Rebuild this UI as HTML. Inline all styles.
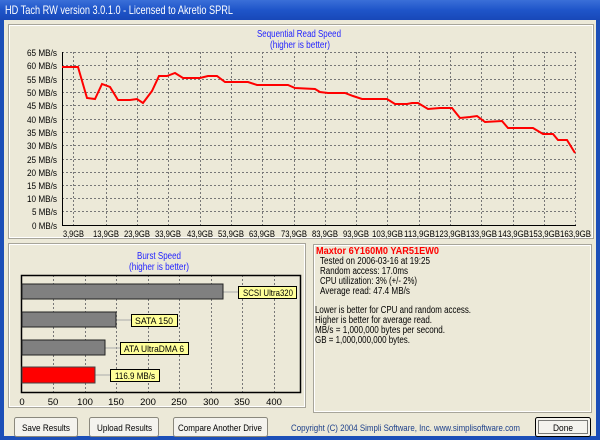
<!DOCTYPE html>
<html><head><style>
body{margin:0;width:600px;height:440px;overflow:hidden;background:#0a246a;font-family:"Liberation Sans",sans-serif;}
svg{display:block}
text{font-family:"Liberation Sans",sans-serif;}
</style></head><body>
<svg width="600" height="440" viewBox="0 0 600 440" xmlns="http://www.w3.org/2000/svg">
<defs>
<linearGradient id="tb" x1="0" y1="0" x2="0" y2="1"><stop offset="0" stop-color="#3a6fd8"/><stop offset="0.5" stop-color="#1f55c9"/><stop offset="1" stop-color="#1848b8"/></linearGradient>
</defs>
<rect x="0" y="0" width="600" height="440" fill="#1c4fb8"/>
<rect x="0" y="0" width="600" height="20" fill="url(#tb)"/>
<text x="5" y="14" font-size="12" fill="#fff" textLength="228" lengthAdjust="spacingAndGlyphs">HD Tach RW version 3.0.1.0 - Licensed to Akretio SPRL</text>
<rect x="4" y="20" width="592" height="416" fill="#ece9d8"/>
<rect x="8.5" y="24.5" width="585" height="214" fill="none" stroke="#a7a59a"/>
<rect x="9.5" y="25.5" width="583" height="212" fill="none" stroke="#fff"/>
<text x="257" y="37" font-size="10" fill="#2222ff" textLength="84" lengthAdjust="spacingAndGlyphs">Sequential Read Speed</text>
<text x="270" y="48" font-size="10" fill="#2222ff" textLength="60" lengthAdjust="spacingAndGlyphs">(higher is better)</text>
<g stroke="#777" stroke-dasharray="2,2" stroke-width="1">
<line x1="62" y1="52.5" x2="575" y2="52.5"/><line x1="62" y1="65.5" x2="575" y2="65.5"/><line x1="62" y1="79.5" x2="575" y2="79.5"/><line x1="62" y1="92.5" x2="575" y2="92.5"/><line x1="62" y1="105.5" x2="575" y2="105.5"/><line x1="62" y1="119.5" x2="575" y2="119.5"/><line x1="62" y1="132.5" x2="575" y2="132.5"/><line x1="62" y1="145.5" x2="575" y2="145.5"/><line x1="62" y1="159.5" x2="575" y2="159.5"/><line x1="62" y1="172.5" x2="575" y2="172.5"/><line x1="62" y1="185.5" x2="575" y2="185.5"/><line x1="62" y1="198.5" x2="575" y2="198.5"/><line x1="62" y1="211.5" x2="575" y2="211.5"/>
<line x1="73.5" y1="52" x2="73.5" y2="225"/>
<line x1="106.5" y1="52" x2="106.5" y2="225"/><line x1="137.5" y1="52" x2="137.5" y2="225"/><line x1="168.5" y1="52" x2="168.5" y2="225"/><line x1="200.5" y1="52" x2="200.5" y2="225"/><line x1="231.5" y1="52" x2="231.5" y2="225"/><line x1="262.5" y1="52" x2="262.5" y2="225"/><line x1="294.5" y1="52" x2="294.5" y2="225"/><line x1="325.5" y1="52" x2="325.5" y2="225"/><line x1="356.5" y1="52" x2="356.5" y2="225"/><line x1="387.5" y1="52" x2="387.5" y2="225"/><line x1="419.5" y1="52" x2="419.5" y2="225"/><line x1="450.5" y1="52" x2="450.5" y2="225"/><line x1="481.5" y1="52" x2="481.5" y2="225"/><line x1="513.5" y1="52" x2="513.5" y2="225"/><line x1="544.5" y1="52" x2="544.5" y2="225"/>
<line x1="575.5" y1="52" x2="575.5" y2="225"/>
</g>
<line x1="62.5" y1="52" x2="62.5" y2="226" stroke="#000"/>
<line x1="62" y1="225.5" x2="576" y2="225.5" stroke="#000"/>
<g font-size="9.5" fill="#000" lengthAdjust="spacingAndGlyphs">
<text x="27" y="56" textLength="30" lengthAdjust="spacingAndGlyphs">65 MB/s</text><text x="27" y="69" textLength="30" lengthAdjust="spacingAndGlyphs">60 MB/s</text><text x="27" y="83" textLength="30" lengthAdjust="spacingAndGlyphs">55 MB/s</text><text x="27" y="96" textLength="30" lengthAdjust="spacingAndGlyphs">50 MB/s</text><text x="27" y="109" textLength="30" lengthAdjust="spacingAndGlyphs">45 MB/s</text><text x="27" y="123" textLength="30" lengthAdjust="spacingAndGlyphs">40 MB/s</text><text x="27" y="136" textLength="30" lengthAdjust="spacingAndGlyphs">35 MB/s</text><text x="27" y="149" textLength="30" lengthAdjust="spacingAndGlyphs">30 MB/s</text><text x="27" y="163" textLength="30" lengthAdjust="spacingAndGlyphs">25 MB/s</text><text x="27" y="176" textLength="30" lengthAdjust="spacingAndGlyphs">20 MB/s</text><text x="27" y="189" textLength="30" lengthAdjust="spacingAndGlyphs">15 MB/s</text><text x="27" y="202" textLength="30" lengthAdjust="spacingAndGlyphs">10 MB/s</text><text x="32" y="215" textLength="25" lengthAdjust="spacingAndGlyphs">5 MB/s</text><text x="32" y="229" textLength="25" lengthAdjust="spacingAndGlyphs">0 MB/s</text>
</g>
<g font-size="9.5" fill="#000">
<text x="63" y="237" textLength="21" lengthAdjust="spacingAndGlyphs">3,9GB</text>
<text x="93" y="237" textLength="26" lengthAdjust="spacingAndGlyphs">13,9GB</text>
<text x="124" y="237" textLength="26" lengthAdjust="spacingAndGlyphs">23,9GB</text>
<text x="155" y="237" textLength="26" lengthAdjust="spacingAndGlyphs">33,9GB</text>
<text x="187" y="237" textLength="26" lengthAdjust="spacingAndGlyphs">43,9GB</text>
<text x="218" y="237" textLength="26" lengthAdjust="spacingAndGlyphs">53,9GB</text>
<text x="249" y="237" textLength="26" lengthAdjust="spacingAndGlyphs">63,9GB</text>
<text x="281" y="237" textLength="26" lengthAdjust="spacingAndGlyphs">73,9GB</text>
<text x="312" y="237" textLength="26" lengthAdjust="spacingAndGlyphs">83,9GB</text>
<text x="343" y="237" textLength="26" lengthAdjust="spacingAndGlyphs">93,9GB</text>
<text x="372" y="237" textLength="31" lengthAdjust="spacingAndGlyphs">103,9GB</text>
<text x="404" y="237" textLength="31" lengthAdjust="spacingAndGlyphs">113,9GB</text>
<text x="435" y="237" textLength="31" lengthAdjust="spacingAndGlyphs">123,9GB</text>
<text x="466" y="237" textLength="31" lengthAdjust="spacingAndGlyphs">133,9GB</text>
<text x="498" y="237" textLength="31" lengthAdjust="spacingAndGlyphs">143,9GB</text>
<text x="529" y="237" textLength="31" lengthAdjust="spacingAndGlyphs">153,9GB</text>
<text x="560" y="237" textLength="31" lengthAdjust="spacingAndGlyphs">163,9GB</text>
</g>
<polyline fill="none" stroke="#ff0000" stroke-width="2" points="62,67 78,67 87,98 95,99 102,84 110,87 118,100 130,100 137,99 143,103 152,91 159,76 167,76 175,73 183,78 200,78 208,76 217,76 225,82 248,82 257,85 288,85 295,88 315,89 320,92 328,93 345,93 353,96 362,99 387,99 395,104 407,104 412,103 418,103 428,109 440,108 452,108 460,118 470,117 477,116 485,122 502,121 508,128 533,128 543,134 553,134 558,140 567,140 575,153"/>
<rect x="8.5" y="243.5" width="297" height="164" fill="none" stroke="#a7a59a"/>
<rect x="9.5" y="244.5" width="295" height="162" fill="none" stroke="#fff"/>
<text x="137" y="259" font-size="10" fill="#2222ff" textLength="44" lengthAdjust="spacingAndGlyphs">Burst Speed</text>
<text x="129" y="270" font-size="10" fill="#2222ff" textLength="60" lengthAdjust="spacingAndGlyphs">(higher is better)</text>
<g stroke="#777" stroke-dasharray="2,2">
<line x1="53.5" y1="275" x2="53.5" y2="393"/><line x1="85.5" y1="275" x2="85.5" y2="393"/><line x1="116.5" y1="275" x2="116.5" y2="393"/><line x1="148.5" y1="275" x2="148.5" y2="393"/><line x1="179.5" y1="275" x2="179.5" y2="393"/><line x1="211.5" y1="275" x2="211.5" y2="393"/><line x1="242.5" y1="275" x2="242.5" y2="393"/><line x1="274.5" y1="275" x2="274.5" y2="393"/>
</g>
<rect x="21.5" y="275.5" width="279" height="117" fill="none" stroke="#000" stroke-width="1.5"/>
<g stroke="#aaa"><line x1="223" y1="292" x2="238" y2="292"/><line x1="116" y1="320" x2="131" y2="320"/><line x1="105" y1="348" x2="120" y2="348"/><line x1="95" y1="375" x2="110" y2="375"/></g>
<rect x="22" y="284" width="201" height="15" fill="#808080" stroke="#222"/>
<rect x="22" y="312" width="94" height="15" fill="#808080" stroke="#222"/>
<rect x="22" y="340" width="83" height="15" fill="#808080" stroke="#222"/>
<rect x="22" y="367" width="73" height="16" fill="#ff0000" stroke="#444"/>
<g stroke="#000" fill="#ffff99">
<rect x="238.5" y="286.5" width="58" height="12"/><rect x="131.5" y="314.5" width="46" height="12"/><rect x="120.5" y="342.5" width="68" height="12"/><rect x="110.5" y="369.5" width="49" height="12"/>
</g>
<g font-size="9.5" fill="#000">
<text x="243" y="296" textLength="50" lengthAdjust="spacingAndGlyphs">SCSI Ultra320</text>
<text x="135" y="324" textLength="38" lengthAdjust="spacingAndGlyphs">SATA 150</text>
<text x="124" y="352" textLength="60" lengthAdjust="spacingAndGlyphs">ATA UltraDMA 6</text>
<text x="115" y="379" textLength="40" lengthAdjust="spacingAndGlyphs">116.9 MB/s</text>
</g>
<g font-size="9.5" fill="#000" text-anchor="middle">
<text x="22" y="405">0</text><text x="53" y="405">50</text><text x="85" y="405">100</text><text x="116" y="405">150</text><text x="148" y="405">200</text><text x="179" y="405">250</text><text x="211" y="405">300</text><text x="242" y="405">350</text><text x="274" y="405">400</text>
</g>
<rect x="313.5" y="244.5" width="278" height="168" fill="none" stroke="#a7a59a"/>
<rect x="314.5" y="245.5" width="276" height="166" fill="none" stroke="#fff"/>
<text x="316" y="254" font-size="10.5" font-weight="bold" fill="#ff0000" textLength="123" lengthAdjust="spacingAndGlyphs">Maxtor 6Y160M0 YAR51EW0</text>
<g font-size="9.8" fill="#000">
<text x="320" y="264" textLength="110" lengthAdjust="spacingAndGlyphs">Tested on 2006-03-16 at 19:25</text>
<text x="320" y="274" textLength="88" lengthAdjust="spacingAndGlyphs">Random access: 17.0ms</text>
<text x="320" y="284" textLength="97" lengthAdjust="spacingAndGlyphs">CPU utilization: 3% (+/- 2%)</text>
<text x="320" y="294" textLength="90" lengthAdjust="spacingAndGlyphs">Average read: 47.4 MB/s</text>
<text x="315" y="313" textLength="156" lengthAdjust="spacingAndGlyphs">Lower is better for CPU and random access.</text>
<text x="315" y="323" textLength="117" lengthAdjust="spacingAndGlyphs">Higher is better for average read.</text>
<text x="315" y="333" textLength="130" lengthAdjust="spacingAndGlyphs">MB/s = 1,000,000 bytes per second.</text>
<text x="315" y="343" textLength="95" lengthAdjust="spacingAndGlyphs">GB = 1,000,000,000 bytes.</text>
</g>
<g fill="#f4f3ee" stroke="#8a887d">
<rect x="14.5" y="417.5" width="63" height="19" rx="2"/><rect x="89.5" y="417.5" width="69" height="19" rx="2"/><rect x="173.5" y="417.5" width="94" height="19" rx="2"/><rect x="535.5" y="417.5" width="55" height="19" rx="2" stroke="#000"/>
</g>
<rect x="538.5" y="420.5" width="49" height="13" fill="none" stroke="#000" stroke-dasharray="1,1"/>
<g font-size="9.5" fill="#000">
<text x="22" y="431" textLength="48" lengthAdjust="spacingAndGlyphs">Save Results</text>
<text x="97" y="431" textLength="55" lengthAdjust="spacingAndGlyphs">Upload Results</text>
<text x="178" y="431" textLength="84" lengthAdjust="spacingAndGlyphs">Compare Another Drive</text>
<text x="553" y="431" textLength="20" lengthAdjust="spacingAndGlyphs">Done</text>
</g>
<text x="291" y="431" font-size="9.5" fill="#1c3f8a" textLength="229" lengthAdjust="spacingAndGlyphs">Copyright (C) 2004 Simpli Software, Inc. www.simplisoftware.com</text>
</svg>
</body></html>
